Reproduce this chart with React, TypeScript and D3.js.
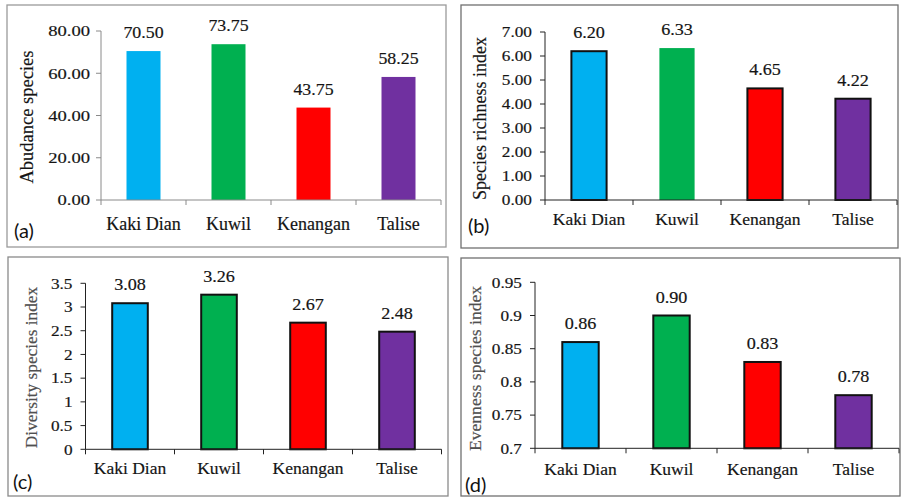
import React from "react";
import * as d3 from "d3";

const categories = ["Kaki Dian", "Kuwil", "Kenangan", "Talise"];
const abundance = [70.5, 73.75, 43.75, 58.25];
const richness = [6.2, 6.33, 4.65, 4.22];
const diversity = [3.08, 3.26, 2.67, 2.48];
const evenness = [0.86, 0.9, 0.83, 0.78];

const abundanceTicks = [0, 20, 40, 60, 80];
const richnessTicks = [0, 1, 2, 3, 4, 5, 6, 7];
const diversityTicks = [0, 0.5, 1, 1.5, 2, 2.5, 3, 3.5];
const evennessTicks = [0.7, 0.75, 0.8, 0.85, 0.9, 0.95];

const barColors = ["#00B0F0", "#00B050", "#FF0000", "#7030A0"];

type PanelCfg = {
  frame: [number, number, number, number];
  x0: number;
  x1: number;
  yTop: number;
  yBottom: number;
  domain: [number, number];
  ticks: number[];
  tickFmt: (v: number) => string;
  values: number[];
  title: string;
  titleCx: number;
  titleCy: number;
  titleSize: number;
  titleColor: string;
  letter: string;
  letterX: number;
  letterY: number;
  catY: number;
  catSize: number;
  valSize: number;
  valSx: number;
  tickSize: number;
  tickSx: number;
  tickGap: number;
  outline: boolean[];
  axisColor: string;
  frameColor: string;
};

const SERIF = "Liberation Serif";
const SANS = "Lato";
const INK = "#141414";

const serifStyle = (size: number, color: string = INK) => ({
  fontFamily: SERIF,
  fontSize: size,
  fill: color,
  stroke: color,
  strokeWidth: 0.18,
});

function Panel({ c }: { c: PanelCfg }) {
  const x = d3.scaleBand<string>().domain(categories).range([c.x0, c.x1]).paddingInner(0.6).paddingOuter(0.3);
  const y = d3.scaleLinear().domain(c.domain).range([c.yBottom, c.yTop]);
  const step = x.step();
  const bounds = d3.range(categories.length + 1).map((i) => c.x0 + i * step);
  const [fx, fy, fw, fh] = c.frame;
  return (
    <g>
      <rect x={fx} y={fy} width={fw} height={fh} fill="#fff" stroke={c.frameColor} strokeWidth={1.3} />
      {c.values.map((v, i) => {
        const cat = categories[i];
        const bx = x(cat)!;
        const bw = x.bandwidth();
        const top = y(v);
        return (
          <g key={cat}>
            <rect
              x={bx}
              y={top}
              width={bw}
              height={c.yBottom - top}
              fill={barColors[i]}
              stroke={c.outline[i] ? "#111" : "none"}
              strokeWidth={2}
            />
            <text
              transform={`translate(${bx + bw / 2},${top - 13}) scale(${c.valSx},1)`}
              textAnchor="middle"
              style={serifStyle(c.valSize)}
            >
              {d3.format(".2f")(v)}
            </text>
            <text x={bx + bw / 2} y={c.catY} textAnchor="middle" style={serifStyle(c.catSize)}>
              {cat}
            </text>
          </g>
        );
      })}
      <line x1={c.x0} x2={c.x0} y1={c.yTop} y2={c.yBottom} stroke={c.axisColor} strokeWidth={1} />
      {c.ticks.map((t) => (
        <g key={t}>
          <line x1={c.x0 - 5} x2={c.x0} y1={y(t)} y2={y(t)} stroke={c.axisColor} strokeWidth={1} />
          <text
            transform={`translate(${c.x0 - c.tickGap},${y(t)}) scale(${c.tickSx},1)`}
            dy="0.35em"
            textAnchor="end"
            style={serifStyle(c.tickSize)}
          >
            {c.tickFmt(t)}
          </text>
        </g>
      ))}
      <line x1={c.x0} x2={c.x1} y1={c.yBottom} y2={c.yBottom} stroke={c.axisColor} strokeWidth={1} />
      {bounds.map((b, i) => (
        <line key={i} x1={b} x2={b} y1={c.yBottom} y2={c.yBottom + 5} stroke={c.axisColor} strokeWidth={1} />
      ))}
      <text
        transform={`translate(${c.titleCx + 0.22 * c.titleSize},${c.titleCy}) rotate(-90)`}
        textAnchor="middle"
        style={serifStyle(c.titleSize, c.titleColor)}
      >
        {c.title}
      </text>
      <text x={c.letterX} y={c.letterY} style={{ fontFamily: SANS, fontSize: 20, fill: "#111" }}>
        {c.letter}
      </text>
    </g>
  );
}

const fmt2 = d3.format(".2f");
const fmtG = (v: number) => String(+v.toFixed(2));

const panels: PanelCfg[] = [
  {
    frame: [7, 5, 439, 242],
    x0: 101,
    x1: 441,
    yTop: 31,
    yBottom: 200,
    domain: [0, 80],
    ticks: abundanceTicks,
    tickFmt: fmt2,
    values: abundance,
    title: "Abudance species",
    titleCx: 28.5,
    titleCy: 117,
    titleSize: 18.5,
    titleColor: INK,
    letter: "(a)",
    letterX: 14,
    letterY: 238,
    catY: 230,
    catSize: 18,
    valSize: 17,
    valSx: 1.05,
    tickSize: 15.5,
    tickSx: 1.2,
    tickGap: 11,
    outline: [false, false, false, false],
    axisColor: "#8a8a8a",
    frameColor: "#9a9a9a",
  },
  {
    frame: [461, 5, 437, 243],
    x0: 545,
    x1: 897,
    yTop: 32,
    yBottom: 200,
    domain: [0, 7],
    ticks: richnessTicks,
    tickFmt: fmt2,
    values: richness,
    title: "Species richness index",
    titleCx: 482,
    titleCy: 118.5,
    titleSize: 18,
    titleColor: INK,
    letter: "(b)",
    letterX: 468,
    letterY: 233,
    catY: 225,
    catSize: 17.5,
    valSize: 16.5,
    valSx: 1.1,
    tickSize: 15,
    tickSx: 1.15,
    tickGap: 13,
    outline: [true, false, true, true],
    axisColor: "#222",
    frameColor: "#707070",
  },
  {
    frame: [8, 257, 440, 239],
    x0: 85.5,
    x1: 441.5,
    yTop: 283.3,
    yBottom: 449.3,
    domain: [0, 3.5],
    ticks: diversityTicks,
    tickFmt: fmtG,
    values: diversity,
    title: "Diversity species index",
    titleCx: 33,
    titleCy: 367.5,
    titleSize: 17.3,
    titleColor: "#505050",
    letter: "(c)",
    letterX: 13,
    letterY: 489,
    catY: 474,
    catSize: 17.5,
    valSize: 16.5,
    valSx: 1.1,
    tickSize: 15,
    tickSx: 1.15,
    tickGap: 13,
    outline: [true, true, true, true],
    axisColor: "#222",
    frameColor: "#8a8a8a",
  },
  {
    frame: [461, 258, 439, 238],
    x0: 535,
    x1: 899,
    yTop: 282.3,
    yBottom: 448.3,
    domain: [0.7, 0.95],
    ticks: evennessTicks,
    tickFmt: fmtG,
    values: evenness,
    title: "Evenness species index",
    titleCx: 477,
    titleCy: 368.5,
    titleSize: 17.6,
    titleColor: "#505050",
    letter: "(d)",
    letterX: 465,
    letterY: 492,
    catY: 475,
    catSize: 17.5,
    valSize: 16.5,
    valSx: 1.1,
    tickSize: 15,
    tickSx: 1.15,
    tickGap: 13,
    outline: [true, true, true, true],
    axisColor: "#222",
    frameColor: "#707070",
  },
];

export default function App() {
  return (
    <div style={{ position: "fixed", left: 0, top: 0, width: 901, height: 497, background: "#fff" }}>
      <svg width={901} height={497} style={{ display: "block" }}>
        <rect width={901} height={497} fill="#fff" />
        {panels.map((p, i) => (
          <Panel key={i} c={p} />
        ))}
      </svg>
    </div>
  );
}
